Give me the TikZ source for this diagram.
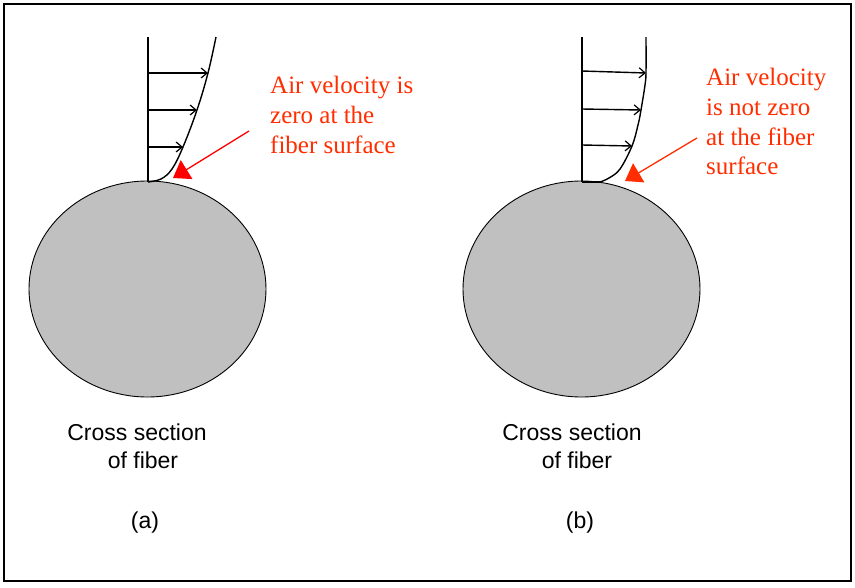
\documentclass[tikz,border=0pt]{standalone}
\usepackage{fontspec}
\setmainfont{Liberation Serif}
\setsansfont{Liberation Sans}
\usetikzlibrary{arrows.meta,shapes.geometric}
\definecolor{redtxt}{RGB}{255,45,0}
\definecolor{fibergray}{RGB}{192,192,192}
\tikzset{
  frame/.style={draw=black,line width=2pt},
  fiber/.style={ellipse,draw=black,line width=0.9pt,fill=fibergray,minimum width=237pt,minimum height=216pt,inner sep=0pt},
  prof/.style={line width=1.4pt},
  velarrow/.style={line width=1.4pt,-{Straight Barb[length=6pt,width=10pt,line width=1.2pt]}},
  redarrow/.style={draw=#1,line width=1.3pt,-{Triangle[length=16pt,width=22pt]}},
  note/.style={text=redtxt,font=\fontsize{25}{29.8}\selectfont,align=left,anchor=north west,inner sep=0pt},
  caption/.style={font=\sffamily\fontsize{23}{28}\selectfont,anchor=base,inner sep=0pt},
}
\begin{document}
\begin{tikzpicture}[x=1pt,y=-1pt]
\useasboundingbox (0,0) rectangle (855,587);
\draw[frame] (4,4) rectangle (851,581);

% ---------- (a) ----------
\node[fiber] (fa) at (147.5,289) {};
\coordinate (fat) at (148,182);
\coordinate (fav) at (148,37);
\draw[prof] (fat) -- (fav);
\draw[prof] plot[smooth,tension=0.6] coordinates {(148,182) (161,179) (172,169) (183,147) (197,110) (208,73) (216,37)};
\coordinate (a1) at (148,73);  \coordinate (a1e) at (208,73);
\coordinate (a2) at (148,110); \coordinate (a2e) at (197,110);
\coordinate (a3) at (148,147); \coordinate (a3e) at (183,147);
\draw[velarrow] (a1) -- (a1e);
\draw[velarrow] (a2) -- (a2e);
\draw[velarrow] (a3) -- (a3e);
\node[note] (na) at (270,76) {Air velocity is\\zero at the\\fiber surface};
\coordinate (ra0) at (249,131);
\coordinate (ra1) at (173,178);
\draw[redarrow=red] (ra0) -- (ra1);
\node[caption] (ca1) at (137,440) {Cross section};
\node[caption] (ca2) at (143,468) {of fiber};
\node[caption] (la) at (145,528) {(a)};

% ---------- (b) ----------
\node[fiber] (fb) at (581.5,289) {};
\coordinate (fbt) at (582,182);
\coordinate (fbv) at (582,37);
\draw[prof] (fbt) -- (fbv);
\draw[prof] (582,182) -- (600,182);
\draw[prof] plot[smooth,tension=0.6] coordinates {(600,182) (609,178) (620,169) (632,146) (638,125) (641,110) (645,85) (646,72) (646,37)};
\coordinate (b1) at (582,71);  \coordinate (b1e) at (646,73);
\coordinate (b2) at (582,109); \coordinate (b2e) at (641,110);
\coordinate (b3) at (582,145); \coordinate (b3e) at (632,146);
\draw[velarrow] (b1) -- (b1e);
\draw[velarrow] (b2) -- (b2e);
\draw[velarrow] (b3) -- (b3e);
\node[note] (nb) at (706,68) {Air velocity\\is not zero\\at the fiber\\surface};
\coordinate (rb0) at (697,138);
\coordinate (rb1) at (625,181);
\draw[redarrow=redtxt] (rb0) -- (rb1);
\node[caption] (cb1) at (572,440) {Cross section};
\node[caption] (cb2) at (577,468) {of fiber};
\node[caption] (lb) at (580,528) {(b)};
\end{tikzpicture}
\end{document}
